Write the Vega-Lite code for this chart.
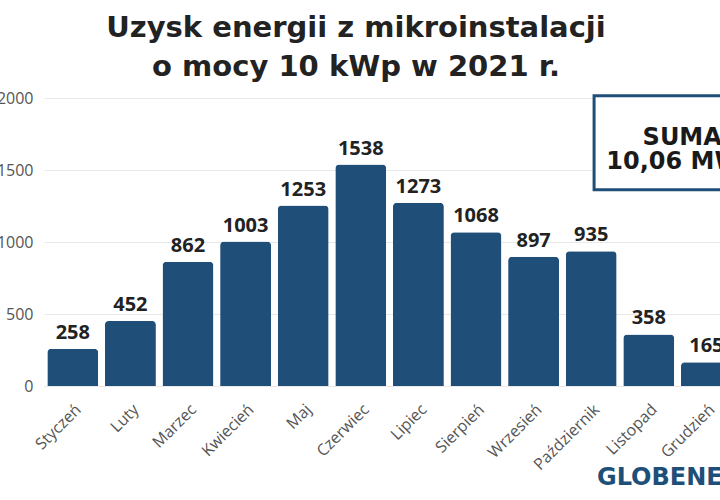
{
  "$schema": "https://vega.github.io/schema/vega-lite/v6.json",
  "width": 676,
  "height": 288,
  "autosize": {"type": "none"},
  "padding": {"left": 44, "top": 98, "right": 0, "bottom": 114},
  "background": "white",
  "title": {
    "text": ["Uzysk energii z mikroinstalacji", "o mocy 10 kWp w 2021 r."],
    "font": "DejaVu Sans",
    "fontSize": 29,
    "fontWeight": "bold",
    "color": "#222222",
    "anchor": "middle",
    "dx": -26,
    "lineHeight": 39,
    "baseline": "alphabetic",
    "offset": -15
  },
  "config": {
    "view": {"stroke": null},
    "axis": {"labelFont": "Open Sans", "labelColor": "#555555", "domain": false, "ticks": false, "title": null}
  },
  "layer": [
    {
      "data": {
        "values": [
          {"month": "Styczeń", "value": 258},
          {"month": "Luty", "value": 452},
          {"month": "Marzec", "value": 862},
          {"month": "Kwiecień", "value": 1003},
          {"month": "Maj", "value": 1253},
          {"month": "Czerwiec", "value": 1538},
          {"month": "Lipiec", "value": 1273},
          {"month": "Sierpień", "value": 1068},
          {"month": "Wrzesień", "value": 897},
          {"month": "Październik", "value": 935},
          {"month": "Listopad", "value": 358},
          {"month": "Grudzień", "value": 165}
        ]
      },
      "encoding": {
        "x": {
          "field": "month", "type": "nominal", "sort": null,
          "scale": {"range": [0, 691.2], "paddingInner": 0.115, "paddingOuter": 0.0575},
          "axis": {"labelAngle": -45, "labelFontSize": 16, "labelPadding": 15}
        },
        "y": {
          "field": "value", "type": "quantitative",
          "scale": {"domain": [0, 2000], "nice": false},
          "axis": {"values": [0, 500, 1000, 1500, 2000], "format": "d", "grid": true, "gridColor": "#e8e8e8", "labelFontSize": 16, "labelPadding": 11}
        }
      },
      "layer": [
        {"mark": {"type": "bar", "color": "#1f4e79", "cornerRadiusTopLeft": 4, "cornerRadiusTopRight": 4}},
        {"mark": {"type": "text", "baseline": "alphabetic", "dy": -10, "font": "Open Sans", "fontSize": 20, "fontWeight": "bold", "color": "#222222"},
         "encoding": {"text": {"field": "value", "type": "quantitative"}}}
      ]
    },
    {
      "layer": [
        {
          "data": {"values": [{"x": 9.55, "x2": 12.6, "y": 2016, "y2": 1363}]},
          "mark": {"type": "rect", "fill": "white", "stroke": "#1f4e79", "strokeWidth": 3},
          "encoding": {
            "x": {"field": "x", "type": "quantitative", "scale": {"domain": [0, 12], "range": [0, 691.2], "nice": false, "zero": false}, "axis": null},
            "x2": {"field": "x2"},
            "y": {"field": "y", "type": "quantitative", "scale": {"domain": [0, 2000], "nice": false}},
            "y2": {"field": "y2"}
          }
        },
        {
          "data": {"values": [{"x": 11.08, "y": 1675, "label": ["SUMA", "10,06 MWh"]}]},
          "mark": {"type": "text", "align": "center", "baseline": "alphabetic", "lineHeight": 24, "font": "DejaVu Sans", "fontSize": 24, "fontWeight": "bold", "color": "#1a1a1a"},
          "encoding": {
            "x": {"field": "x", "type": "quantitative", "scale": {"domain": [0, 12], "range": [0, 691.2], "nice": false, "zero": false}, "axis": null},
            "y": {"field": "y", "type": "quantitative", "scale": {"domain": [0, 2000], "nice": false}},
            "text": {"field": "label"}
          }
        },
        {
          "data": {"values": [{"x": 9.6, "y": -685, "label": "GLOBENERGIA"}]},
          "mark": {"type": "text", "align": "left", "baseline": "alphabetic", "font": "DejaVu Sans", "fontSize": 24, "fontWeight": "bold", "color": "#1d4f78"},
          "encoding": {
            "x": {"field": "x", "type": "quantitative", "scale": {"domain": [0, 12], "range": [0, 691.2], "nice": false, "zero": false}, "axis": null},
            "y": {"field": "y", "type": "quantitative", "scale": {"domain": [0, 2000], "nice": false}},
            "text": {"field": "label"}
          }
        }
      ]
    }
  ],
  "resolve": {"scale": {"x": "independent"}}
}
